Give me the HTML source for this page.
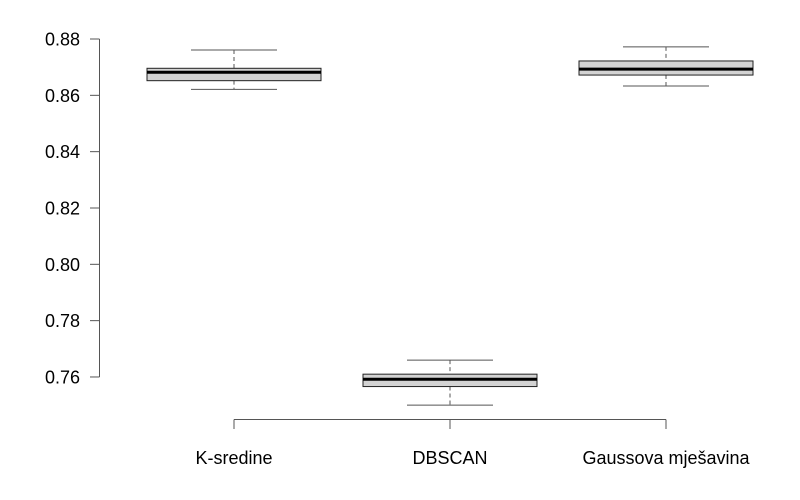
<!DOCTYPE html>
<html><head><meta charset="utf-8"><style>
body{margin:0;background:#fff}
svg{display:block;font-family:"Liberation Sans",Arial,sans-serif}
</style></head><body>
<svg id="chart" width="800" height="500" xmlns="http://www.w3.org/2000/svg"></svg>
<script>
const categories=["K-sredine","DBSCAN","Gaussova mješavina"];
const whiskerLow=[0.8621,0.7500,0.8633];
const q1=[0.8652,0.7566,0.8672];
const medians=[0.8682,0.7592,0.8693];
const q3=[0.8696,0.7610,0.8722];
const whiskerHigh=[0.8761,0.7660,0.8772];
const yTicks=[0.76,0.78,0.80,0.82,0.84,0.86,0.88];
const yTickLabels=["0.76","0.78","0.80","0.82","0.84","0.86","0.88"];

const svg=document.getElementById('chart');
const NS='http://www.w3.org/2000/svg';
function y(v){return 39+(0.88-v)/0.02*56.33;}
function x(i){return 234+i*216;}
function mk(tag,attrs,parent){const e=document.createElementNS(NS,tag);for(const k in attrs)e.setAttribute(k,attrs[k]);(parent||svg).appendChild(e);return e;}

const yAxis=mk('g',{});


mk('line',{x1:99.5,x2:99.5,y1:y(0.76),y2:y(0.88),stroke:'#555','stroke-width':1},yAxis);
yTicks.forEach((t,i)=>{
  mk('line',{x1:90,x2:99.5,y1:y(t),y2:y(t),stroke:'#555','stroke-width':1},yAxis);
  const tx=mk('text',{x:80,y:y(t)+6.5,'text-anchor':'end','font-size':18,fill:'#000'},yAxis);
  tx.textContent=yTickLabels[i];
  
  
});

const xAxis=mk('g',{});


mk('line',{x1:x(0),x2:x(categories.length-1),y1:419.5,y2:419.5,stroke:'#555','stroke-width':1},xAxis);
categories.forEach((c,i)=>{
  mk('line',{x1:x(i),x2:x(i),y1:419.5,y2:429,stroke:'#555','stroke-width':1},xAxis);
  const tx=mk('text',{x:x(i),y:464,'text-anchor':'middle','font-size':18,fill:'#000'},xAxis);
  tx.textContent=c;
  
  
});

categories.forEach((c,i)=>{
  const g=mk('g',{});
  
  
  const cx=x(i),hw=87,cw=43;
  mk('line',{x1:cx,x2:cx,y1:y(whiskerHigh[i]),y2:y(q3[i]),stroke:'#555','stroke-dasharray':'4,3'},g);
  mk('line',{x1:cx,x2:cx,y1:y(q1[i]),y2:y(whiskerLow[i]),stroke:'#555','stroke-dasharray':'4,3'},g);
  mk('line',{x1:cx-cw,x2:cx+cw,y1:y(whiskerHigh[i]),y2:y(whiskerHigh[i]),stroke:'#555'},g);
  mk('line',{x1:cx-cw,x2:cx+cw,y1:y(whiskerLow[i]),y2:y(whiskerLow[i]),stroke:'#555'},g);
  mk('rect',{x:cx-hw,y:y(q3[i]),width:2*hw,height:y(q1[i])-y(q3[i]),fill:'#d3d3d3',stroke:'#222','stroke-width':1},g);
  mk('line',{x1:cx-hw,x2:cx+hw,y1:y(medians[i]),y2:y(medians[i]),stroke:'#000','stroke-width':3},g);
});
</script>
</body></html>
